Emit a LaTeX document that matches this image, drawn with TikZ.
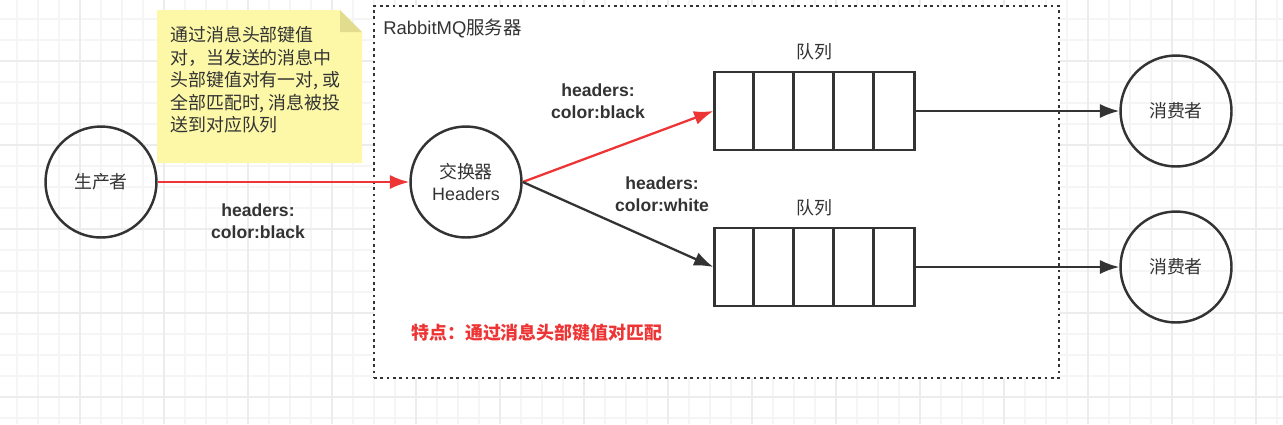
\documentclass[tikz,border=0pt]{standalone}
\usepackage{fontspec}
\setmainfont{Liberation Sans}
\newfontfamily\cjk{Noto Sans CJK SC}
\usetikzlibrary{arrows.meta}
\definecolor{ink}{HTML}{333333}
\definecolor{hotred}{HTML}{EE3535}
\definecolor{noteyellow}{HTML}{FCF8A8}
\definecolor{notefold}{HTML}{E2DD8E}
\definecolor{gridminor}{HTML}{F5F5F5}
\definecolor{gridmajor}{HTML}{ECECEC}

\begin{document}
\begin{tikzpicture}[>={Latex[length=11pt,width=8pt]}, x=0.02cm, y=-0.02cm,
    role/.style={draw=ink,circle,line width=1.4pt,inner sep=0,minimum size=2.22cm,
      font=\cjk\fontsize{10.2}{12.5}\selectfont,text=ink,align=center},
    queue/.style={draw=ink,rectangle,line width=1.3pt,inner sep=0,minimum width=4cm,minimum height=1.56cm},
    tag/.style={font=\bfseries\fontsize{10}{12.5}\selectfont,text=ink,align=center},
    caption/.style={font=\cjk\fontsize{10.2}{12.5}\selectfont,text=ink},
    flow/.style={->,line width=1.3pt,draw=ink},
    hot/.style={->,line width=1.3pt,draw=hotred}]
    \useasboundingbox (0,0) rectangle (1283,424);
    % canvas grid
    \fill[white] (0,0) rectangle (1283,424);
    \foreach \gx in {17,38,...,1283} \draw[gridminor,line width=0.6pt] (\gx,0) -- (\gx,424);
    \foreach \gy in {19,40,...,424} \draw[gridminor,line width=0.6pt] (0,\gy) -- (1283,\gy);
    \foreach \gx in {80,164,...,1283} \draw[gridmajor,line width=0.6pt] (\gx,0) -- (\gx,424);
    \foreach \gy in {61,145,...,424} \draw[gridmajor,line width=0.6pt] (0,\gy) -- (1283,\gy);

    % server frame
    \path (716.5,192) node [draw=ink,fill=white,line width=1.6pt,dash pattern=on 1.5pt off 2.1pt,
      inner sep=0,minimum width=13.7cm,minimum height=7.44cm](server){};
    \path (383,28) node [anchor=west,inner sep=0,text=ink,font=\fontsize{10.5}{12.5}\selectfont](servername){RabbitMQ{\cjk 服务器}};

    % note
    \fill[noteyellow] (157,10) -- (340,10) -- (362,32) -- (362,163) -- (157,163) -- cycle;
    \fill[notefold] (340,10) -- (362,32) -- (340,32) -- cycle;
    \path (170,80) node [anchor=west,inner sep=0,align=left,text=ink,font=\cjk\fontsize{10.2}{12.8}\selectfont](note)
      {通过消息头部键值\\对，当发送的消息中\\头部键值对有一对, 或\\全部匹配时, 消息被投\\送到对应队列};

    % nodes
    \path (101,182) node [role](producer){生产者};
    \path (466,182) node [role](exchange){交换器\\{\rmfamily Headers}};
    \path (814.5,111) node [queue](queue1){};
    \path (814.5,267) node [queue](queue2){};
    \foreach \q in {queue1,queue2}
      \foreach \i in {1,...,4}
        \draw[ink,line width=1.3pt] ([xshift=\i*0.8cm]\q.north west) -- ([xshift=\i*0.8cm]\q.south west);
    \path (814.5,52) node [caption](label1){队列};
    \path (814.5,208) node [caption](label2){队列};
    \path (1176,111) node [role](consumer1){消费者};
    \path (1176,267) node [role](consumer2){消费者};

    % connectors
    \draw[hot] (producer.east) -- (exchange.west);
    \path (258,221) node [tag](tag1){headers:\\color:black};
    \draw[hot] (exchange.east) -- (queue1.west);
    \path (598,101) node [tag](tag2){headers:\\color:black};
    \draw[flow] (exchange.east) -- (queue2.west);
    \path (662,194) node [tag](tag3){headers:\\color:white};
    \draw[flow] (queue1.east) -- (consumer1);
    \draw[flow] (queue2.east) -- (consumer2);

    \path (411,333) node [anchor=west,inner sep=0,text=hotred,font=\cjk\bfseries\fontsize{10.2}{12.5}\selectfont](feature){特点：通过消息头部键值对匹配};
  \end{tikzpicture}
\end{document}
